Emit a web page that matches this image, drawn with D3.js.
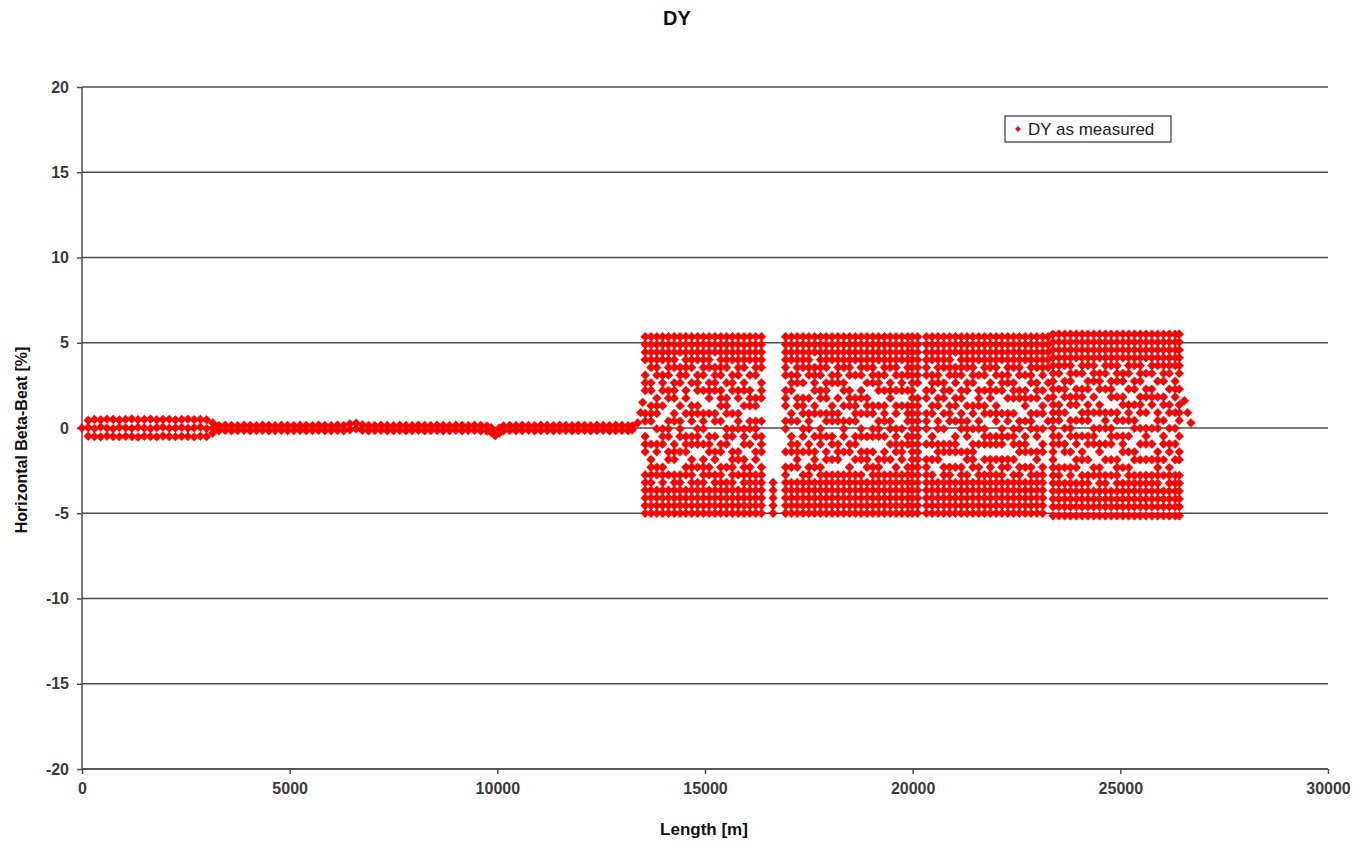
<!DOCTYPE html>
<html>
<head>
<meta charset="utf-8">
<title>DY</title>
<script src="https://cdn.jsdelivr.net/npm/d3@7"></script>
<style>
  body { margin: 0; background: #fff; }
  text { font-family: Arial, "Liberation Sans", sans-serif; }
</style>
</head>
<body>
<script>
// Axis ticks
var xTicks = [0, 5000, 10000, 15000, 20000, 25000, 30000];
var yTicks = [20, 15, 10, 5, 0, -5, -10, -15, -20];

// Interaction region (0 - 3200 m): three rows of BPMs per position
var irX = [150, 300, 450, 600, 750, 900, 1050, 1200, 1350, 1500, 1650, 1800, 1950, 2100, 2250, 2400, 2550, 2700, 2850, 3000, 3150];
var irTop = [0.45, 0.5, 0.48, 0.52, 0.5, 0.47, 0.5, 0.53, 0.49, 0.5, 0.52, 0.48, 0.5, 0.51, 0.47, 0.5, 0.52, 0.49, 0.5, 0.48, 0.3];
var irMid = [0.02, -0.03, 0.05, 0, -0.04, 0.03, 0.01, -0.02, 0.04, 0, -0.03, 0.02, 0.05, -0.01, 0, 0.03, -0.02, 0.01, 0.04, -0.03, 0];
var irBot = [-0.48, -0.5, -0.52, -0.47, -0.5, -0.51, -0.49, -0.5, -0.53, -0.48, -0.5, -0.52, -0.47, -0.5, -0.51, -0.49, -0.5, -0.52, -0.48, -0.5, -0.3];

// Transfer line (3300 - 13250 m): two pickups per position
var flatX = [3300, 3450, 3600, 3750, 3900, 4050, 4200, 4350, 4500, 4650,
  4800, 4950, 5100, 5250, 5400, 5550, 5700, 5850, 6000, 6150,
  6300, 6450, 6600, 6750, 6900, 7050, 7200, 7350, 7500, 7650,
  7800, 7950, 8100, 8250, 8400, 8550, 8700, 8850, 9000, 9150,
  9300, 9450, 9600, 9750,
  9850, 9950, 10050, 10150,
  10300, 10450, 10600, 10750, 10900, 11050, 11200, 11350, 11500, 11650,
  11800, 11950, 12100, 12250, 12400, 12550, 12700, 12850, 13000, 13150,
  13250];
var flatUp = [0.14, 0.16, 0.15, 0.13, 0.16, 0.15, 0.14, 0.16, 0.15, 0.13,
  0.16, 0.15, 0.14, 0.16, 0.15, 0.14, 0.16, 0.15, 0.13, 0.16,
  0.15, 0.24, 0.28, 0.18, 0.15, 0.14, 0.16, 0.15, 0.13, 0.16,
  0.15, 0.14, 0.16, 0.15, 0.14, 0.16, 0.15, 0.13, 0.16, 0.15,
  0.14, 0.16, 0.15, 0.12,
  0.02, -0.2, 0.0, 0.12,
  0.15, 0.14, 0.16, 0.15, 0.13, 0.16, 0.15, 0.14, 0.16, 0.15,
  0.14, 0.16, 0.15, 0.13, 0.16, 0.15, 0.14, 0.16, 0.15, 0.13,
  0.12];
var flatLow = [-0.15, -0.14, -0.16, -0.15, -0.13, -0.16, -0.15, -0.14, -0.16, -0.15,
  -0.13, -0.16, -0.15, -0.14, -0.16, -0.15, -0.13, -0.16, -0.15, -0.14,
  -0.16, -0.1, -0.05, -0.14, -0.16, -0.15, -0.13, -0.16, -0.15, -0.14,
  -0.16, -0.15, -0.13, -0.16, -0.15, -0.14, -0.16, -0.15, -0.13, -0.16,
  -0.15, -0.14, -0.16, -0.18,
  -0.25, -0.45, -0.3, -0.16,
  -0.14, -0.16, -0.15, -0.13, -0.16, -0.15, -0.14, -0.16, -0.15, -0.13,
  -0.16, -0.15, -0.14, -0.16, -0.15, -0.13, -0.16, -0.15, -0.14, -0.16,
  -0.1];

// Single points: start, ring injection ramp, tail after the ring
var extraX = [0, 13380, 13450, 13500, 26540, 26620, 26700];
var extraY = [0, 0.3, 0.9, 1.5, 1.6, 0.9, 0.3];

// Ring section (13560 - 26420 m): BPM positions and measured beat levels
var ringLevels = [5.35, 4.9, 4.45, 4.0, 3.55, 3.1, 2.65, 2.2, 1.75, 1.3, 0.85, 0.4, -0.05, -0.5, -0.95, -1.4, -1.85, -2.3, -2.75, -3.2, -3.65, -4.1, -4.55, -5.0];
var ringLevelsEast = [5.5, 5.04, 4.58, 4.12, 3.66, 3.2, 2.74, 2.28, 1.82, 1.36, 0.9, 0.44, -0.02, -0.48, -0.94, -1.4, -1.86, -2.32, -2.78, -3.24, -3.7, -4.16, -4.62, -5.15];
var eastStart = 23380;
var ringX = [13560, 13700, 13840, 13980, 14120, 14260, 14400, 14540, 14680, 14820, 14960, 15100, 15240, 15380, 15520, 15660, 15800, 15940, 16080, 16220, 16360,
  16640,
  16940, 17080, 17220, 17360, 17500, 17640, 17780, 17920, 18060, 18200, 18340, 18480, 18620, 18760, 18900, 19040, 19180, 19320, 19460, 19600, 19740, 19880, 19990,
  20120,
  20330, 20470, 20610, 20750, 20890, 21030, 21170, 21310, 21450, 21590, 21730, 21870, 22010, 22150, 22290, 22430, 22570, 22710, 22850, 22990, 23130,
  23260, 23380,
  23520, 23660, 23800, 23940, 24080, 24220, 24360, 24500, 24640, 24780, 24920, 25060, 25200, 25340, 25480, 25620, 25760, 25900, 26040, 26180, 26320, 26420];
// '#' = BPM reading at that level, '.' = none
var ringHits = [
  "####.###..##.###..######", "#####.##.###..#.########", "######..###.#.##.##.####", "####.###.#..###..#######",
  "######.##..###.##.#.####", "#####.###.##..###.######", "###.###..#.###.#..######", "######.##.#..###.##.####",
  "#####.#..###.##.########", "####.###.##.###..#.#####", "######.#..###.#.########", "#####.###.#..###.##.####",
  "###.####..##.#.##.######", "######.###.#..##.#######", "#####.#.###.###..#.#####", "####.###..#.##.#########",
  "######.##.###..##.#.####", "#####.##.#..###.########", "####.#.###.##.#..#######", "######..##.###.##.######",
  "#####.###..#.###.#######",
  "...................#####",
  "######.###.##..#.#######", "####.###..##.###.#.#####", "#######.##.#..####.#####", "#####.#.###.##.#..######",
  "######..#.###.##.#######", "###.####.##..#.###.#####", "######.##.#.###..#######", "#####.###.##.#.##.######",
  "####.##..###.##.#.######", "#######.#.##..###.######", "#####.##.#.###.#..######", "######.###.#..##.#######",
  "####.#..####.##.#.######", "######.##.#.##.##.######", "#####.#.###..#.###.#####", "#######..##.##.#.#######",
  "####.###.#.###..########", "######.#.###.#.##.######", "#####.###..##.#.#.######", "######.#.##.####.#######",
  "####.###.#..#.###.######", "######.#.###.##..#######", "########################",
  "#######.################",
  "######.##.###.#.########", "####.###.##..##.#.######", "#######.##.##.###..#####", "#####.###.#.#.##.#######",
  "######.#.###..##.#######", "###.###.##.#.###.#.#####", "######.##.###..#.#######", "#####.##.#.###.##.######",
  "#######..##.#.####.#####", "####.#.###.##.#..#######", "######.#.##.###.#.######", "#####.###.#..##.########",
  "######.#.###.##.#.######", "####.###..#.###.########", "#######.#.##.#..##.#####", "#####.###.#.###.#.######",
  "######.##..##.##.#######", "####.#.###.#.###.#.#####", "#######.#.###..#.#######", "#####.###.#.##.##.######",
  "######.#.##.#.##.#######",
  "#####.#.#..#............", "########################",
  "######.#.###.##..#######", "#####.###.#.#.##.#.#####", "#######.##.###.#.#######", "####.#.###.#.##.##.#####",
  "######.##.##.#.##.######", "#####.##.###.##.#.######", "#######.#.#.###..##.####", "####.###.##.#.##.#######",
  "######.#..###.#.#.######", "#####.###.#.###.#.#.####", "#######.#.##.#..########", "####.##.##.#.###.#.#####",
  "######.#.###.#.#.#######", "#####.##.#.##..##.######", "#######.###.#.#.#.######", "####.#.##.#.###.#.######",
  "######.###..#.#.#.######", "#####.#.#.###..#########", "#######.##.#.##.#.#.####", "######.#.##.#.##.#######",
  "#####.###.#.#.#.#.######", "######.#.###.#.##.######"
];

// Build the point list
var points = [];
irX.forEach(function(x, i) {
  points.push({x: x, y: irTop[i]});
  points.push({x: x, y: irMid[i]});
  points.push({x: x, y: irBot[i]});
});
flatX.forEach(function(x, i) {
  points.push({x: x, y: flatUp[i]});
  points.push({x: x, y: flatLow[i]});
});
extraX.forEach(function(x, i) {
  points.push({x: x, y: extraY[i]});
});
ringX.forEach(function(x, i) {
  var levels = x >= eastStart ? ringLevelsEast : ringLevels;
  ringHits[i].split("").forEach(function(c, j) {
    if (c == "#") { points.push({x: x, y: levels[j]}); }
  });
});

var margin = {top: 87, right: 32, bottom: 74, left: 82};
var totalW = 1360, totalH = 843;
var width = totalW - margin.left - margin.right;
var height = totalH - margin.top - margin.bottom;

var svg = d3.select("body").append("svg")
  .attr("width", totalW)
  .attr("height", totalH);

var g = svg.append("g")
  .attr("transform", "translate(" + margin.left + "," + margin.top + ")");

var xScale = d3.scaleLinear().domain([0, 30000]).range([0, width]);
var yScale = d3.scaleLinear().domain([-20, 20]).range([height, 0]);

// Grid lines
g.selectAll(".grid")
  .data(yTicks)
  .enter()
  .append("line")
  .attr("class", "grid")
  .attr("x1", 0)
  .attr("x2", width)
  .attr("y1", function(d) { return yScale(d); })
  .attr("y2", function(d) { return yScale(d); })
  .attr("stroke", "#4d4d4d")
  .attr("stroke-width", 1.5);

// Axes (plain hyphen for negatives, like the original)
var fmt = function(d) { return String(d); };
var xAxis = d3.axisBottom(xScale).tickValues(xTicks).tickSize(5).tickPadding(9).tickFormat(fmt);
var yAxis = d3.axisLeft(yScale).tickValues(yTicks).tickSize(5).tickPadding(8).tickFormat(fmt);

var gx = g.append("g")
  .attr("transform", "translate(0," + height + ")")
  .call(xAxis);
var gy = g.append("g").call(yAxis);

[gx, gy].forEach(function(a) {
  a.select(".domain").attr("stroke", "#4d4d4d").attr("stroke-width", 1.5);
  a.selectAll(".tick line").attr("stroke", "#4d4d4d").attr("stroke-width", 1.5);
  a.selectAll(".tick text")
    .attr("fill", "#3a3a3a")
    .style("font-size", "16px")
    .style("font-weight", "bold")
    .style("font-family", "Arial, 'Liberation Sans', sans-serif");
});
gy.select(".domain").attr("d", "M0," + height + "V0");
gx.select(".domain").attr("d", "M0,0H" + width);

// Points
var diamond = d3.symbol().type(d3.symbolDiamond2).size(50);
g.selectAll(".pt")
  .data(points)
  .enter()
  .append("path")
  .attr("class", "pt")
  .attr("d", diamond)
  .attr("transform", function(d) { return "translate(" + xScale(d.x) + "," + yScale(d.y) + ")"; })
  .attr("fill", "#ff0000")
  .attr("stroke", "#cc1010")
  .attr("stroke-width", 0.5);

// Title
svg.append("text")
  .attr("x", 677)
  .attr("y", 25)
  .attr("text-anchor", "middle")
  .style("font-size", "20px")
  .style("font-weight", "bold")
  .attr("fill", "#111")
  .text("DY");

// Axis titles
svg.append("text")
  .attr("x", 704)
  .attr("y", 835)
  .attr("text-anchor", "middle")
  .style("font-size", "17px")
  .style("font-weight", "bold")
  .attr("fill", "#111")
  .text("Length [m]");

svg.append("text")
  .attr("transform", "translate(27,440) rotate(-90)")
  .attr("text-anchor", "middle")
  .style("font-size", "16px")
  .style("font-weight", "bold")
  .attr("fill", "#111")
  .text("Horizontal Beta-Beat [%]");

// Legend
var legend = svg.append("g").attr("transform", "translate(1005,116)");
legend.append("rect")
  .attr("width", 166)
  .attr("height", 26)
  .attr("fill", "#fff")
  .attr("stroke", "#333")
  .attr("stroke-width", 1.2);
legend.append("path")
  .attr("d", d3.symbol().type(d3.symbolDiamond2).size(22))
  .attr("transform", "translate(13,13)")
  .attr("fill", "#e0102a");
legend.append("text")
  .attr("x", 23)
  .attr("y", 19)
  .style("font-size", "17px")
  .attr("fill", "#222")
  .text("DY as measured");
</script>
</body>
</html>
